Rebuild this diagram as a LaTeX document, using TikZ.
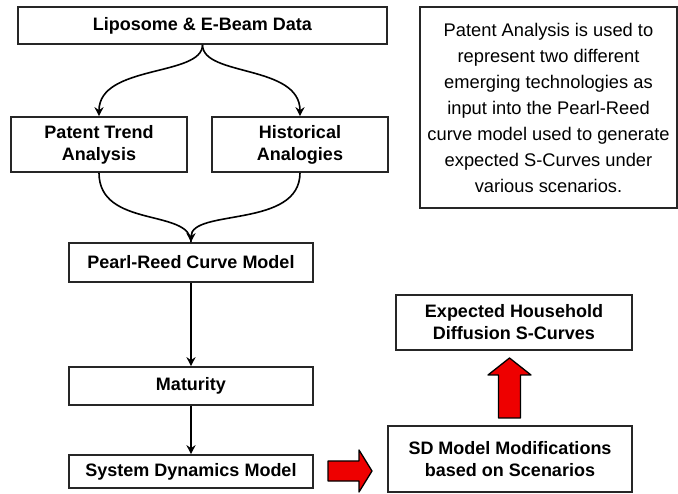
\documentclass[tikz,border=0pt]{standalone}
\usepackage{fontspec}
\setmainfont{Liberation Sans}
\usetikzlibrary{arrows.meta}
\definecolor{arrowred}{RGB}{238,0,0}
\begin{document}
\begin{tikzpicture}[x=1pt,y=-1pt,
  box/.style={draw=black!85, line width=1.6pt, fill=white, inner sep=0pt,
    align=center, font=\fontsize{18}{22}\selectfont\bfseries},
  note/.style={draw=black!85, line width=1.6pt, inner sep=0pt, align=center,
    font=\fontsize{18.3}{26}\selectfont},
  flow/.style={line width=1.6pt, -{Stealth[length=9pt,width=9pt]}},
  fat/.style={draw=black, line width=1.3pt, fill=arrowred, line join=round}]
\useasboundingbox (0,0) rectangle (678,494);

% boxes of the main flow
\node[box, minimum width=369pt, minimum height=37pt] (data) at (202.5,25.5) {Liposome \& E-Beam Data};
\node[box, minimum width=176pt, minimum height=55pt] (trend) at (99,144.5) {Patent Trend\\Analysis};
\node[box, minimum width=176pt, minimum height=55pt] (hist) at (300,144.5) {Historical\\Analogies};
\node[box, minimum width=244pt, minimum height=39pt] (pearl) at (191,262.5) {Pearl-Reed Curve Model};
\node[box, minimum width=244pt, minimum height=38pt] (mat) at (191,386) {Maturity};
\node[box, minimum width=244pt, minimum height=33pt] (sdm) at (191,471.5) {System Dynamics Model};

% scenario side
\node[box, minimum width=244pt, minimum height=66pt] (mods) at (510,459) {SD Model Modifications\\based on Scenarios};
\node[box, minimum width=236pt, minimum height=55pt] (curves) at (514,322.5) {Expected Household\\Diffusion S-Curves};

% explanatory note
\node[note, minimum width=257pt, minimum height=201pt] (info) at (548.5,107.5)
  {Patent Analysis is used to\\represent two different\\emerging technologies as\\input into the Pearl-Reed\\curve model used to generate\\expected S-Curves under\\various scenarios.};

% branching and merging connectors
\draw[flow] (data.south) .. controls +(0,32) and +(0,-52) .. (trend.north);
\draw[flow] (data.south) .. controls +(0,32) and +(0,-52) .. (hist.north);
\draw[line width=1.6pt] (trend.south) .. controls +(0,56) and +(0,-34) .. (pearl.north);
\draw[flow] (hist.south) .. controls +(0,56) and +(0,-34) .. (pearl.north);
\draw[flow] (pearl.south) -- (mat.north);
\draw[flow] (mat.south) -- (sdm.north);

% block arrows
\coordinate (ra) at (328,471);
\draw[fat] (ra) ++(0,-10) -- ++(31,0) -- ++(0,-11) -- ++(13,21) -- ++(-13,21)
  -- ++(0,-11) -- ++(-31,0) -- cycle;
\coordinate (ua) at (509.5,418);
\draw[fat] (ua) ++(-11,0) -- ++(0,-43) -- ++(-10.5,0) -- ++(21.5,-17) -- ++(21.5,17)
  -- ++(-10.5,0) -- ++(0,43) -- cycle;
\end{tikzpicture}
\end{document}
